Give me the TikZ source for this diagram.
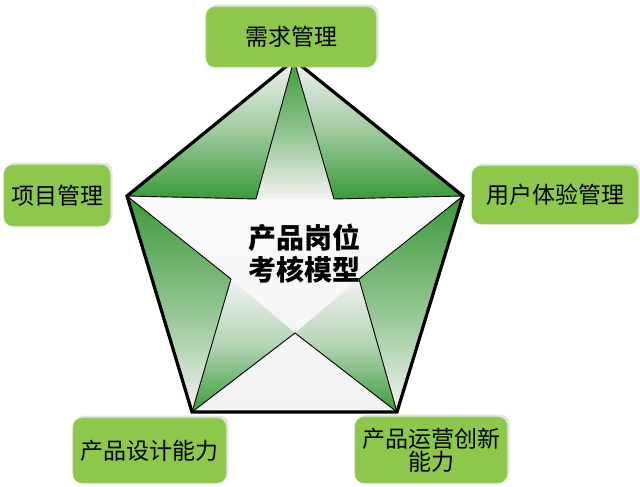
\documentclass[tikz,border=0pt]{standalone}
\usepackage{fontspec}
\newfontfamily\cjk{Noto Sans CJK SC}
\usetikzlibrary{shadows}
\definecolor{dkgreen}{HTML}{3A9A3A}
\definecolor{paleg}{HTML}{F3F3F3}
\definecolor{boxgreen}{HTML}{8DC84C}
\tikzset{
  lbl/.style={rounded corners=9pt, fill=boxgreen, draw=boxgreen!85!white, line width=0.6pt,
    drop shadow={shadow xshift=2.5pt, shadow yshift=2.5pt, fill=black!15, opacity=0.7},
    inner sep=0pt, font=\cjk\fontsize{23}{24}\selectfont, text=black, align=center},
  starline/.style={draw=black, line width=0.9pt, line join=miter},
}
\begin{document}
\begin{tikzpicture}[x=1pt,y=-1pt]
\useasboundingbox (0,0) rectangle (640,487);
\fill[white] (0,0) rectangle (640,487);
% pentagon vertices and star inner points
\coordinate (T) at (294,60);
\coordinate (R) at (463,196);
\coordinate (L) at (127,196);
\coordinate (BR) at (397,412);
\coordinate (BL) at (192,412);
\coordinate (iTL) at (256,199);
\coordinate (iTR) at (334,199);
\coordinate (iR) at (359,279);
\coordinate (iL) at (231,279);
\coordinate (iB) at (295,333);
% base
\shade[top color=white, bottom color=paleg] (T) -- (R) -- (BR) -- (BL) -- (L) -- cycle;
% green gradient pieces
\shade[top color=dkgreen, bottom color=paleg, middle color=dkgreen!55!paleg] (T) -- (iTL) -- (iTR) -- cycle;
\shade[top color=paleg, bottom color=dkgreen, middle color=dkgreen!45!paleg] (T) -- (L) -- (iTL) -- cycle;
\shade[top color=paleg, bottom color=dkgreen, middle color=dkgreen!45!paleg] (T) -- (R) -- (iTR) -- cycle;
\shade[top color=dkgreen, bottom color=paleg, middle color=dkgreen!55!paleg] (L) -- (BL) -- (iL) -- cycle;
\shade[top color=dkgreen, bottom color=paleg, middle color=dkgreen!55!paleg] (R) -- (BR) -- (iR) -- cycle;
\shade[top color=paleg, bottom color=dkgreen, middle color=dkgreen!35!paleg] (BL) -- (iL) -- (iB) -- cycle;
\shade[top color=paleg, bottom color=dkgreen, middle color=dkgreen!35!paleg] (BR) -- (iR) -- (iB) -- cycle;
% star outline
\draw[starline] (T) -- (iTR) -- (R) -- (iR) -- (BR) -- (iB) -- (BL) -- (iL) -- (L) -- (iTL) -- cycle;
% pentagon outline
\draw[line width=3.2pt, line join=miter] (T) -- (R) -- (BR) -- (BL) -- (L) -- cycle;
% center text
\node[font=\cjk\bfseries\fontsize{28}{32}\selectfont, align=center, inner sep=0pt] (center) at (304,254) {产品岗位\\考核模型};
% boxes
\node[lbl, minimum width=170pt, minimum height=60pt] (need) at (291,37) {需求管理};
\node[lbl, minimum width=106pt, minimum height=61pt] (proj) at (57,195.5) {项目管理};
\node[lbl, minimum width=166pt, minimum height=58pt] (ux) at (555,195) {用户体验管理};
\node[lbl, minimum width=153pt, minimum height=65pt] (design) at (149.5,450.5) {产品设计能力};
\node[lbl, minimum width=152pt, minimum height=66pt, font=\cjk\fontsize{23}{23}\selectfont] (oper) at (431,450) {产品运营创新\\能力};
\end{tikzpicture}
\end{document}
